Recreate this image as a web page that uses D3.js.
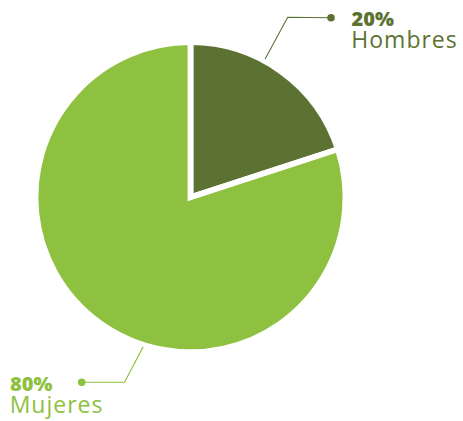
<!DOCTYPE html>
<html>
<head>
<meta charset="utf-8">
<script src="https://cdn.jsdelivr.net/npm/d3@7"></script>
<style>
  html, body { margin: 0; padding: 0; background: #fff; }
  svg { display: block; }
</style>
</head>
<body>
<svg id="chart" width="463" height="421"></svg>
<script>
// Gender split
const categories = ["Hombres", "Mujeres"];
const values = [20, 80];
const colors = ["#5C7232", "#8DC13F"];

const width = 463, height = 421;
const cx = 190.5, cy = 197.2, radius = 155;

const svg = d3.select("#chart");
const g = svg.append("g").attr("transform", `translate(${cx},${cy})`);

const pie = d3.pie().sort(null).value(d => d.value);
const arcs = pie(categories.map((c, i) => ({ name: c, value: values[i], color: colors[i] })));
const arc = d3.arc().innerRadius(0).outerRadius(radius);

g.selectAll("path.slice")
  .data(arcs)
  .join("path")
  .attr("class", "slice")
  .attr("d", arc)
  .attr("fill", d => d.data.color)
  .attr("stroke", "#fff")
  .attr("stroke-width", 5.8)
  .attr("stroke-linejoin", "miter");

// Callout layout: where along each slice the leader leaves the rim,
// the elbow and end point, and the text anchor.
const callouts = {
  Hombres: { t: 0.394, elbow: [287.7, 17.3], end: [331, 17.8], tx: 351.3, y1: 26, y2: 48 },
  Mujeres: { t: 0.436, elbow: [124.5, 382.3], end: [81.7, 382.3], tx: 9.7, y1: 391, y2: 413.3 }
};

const rimR = radius + 2;
arcs.forEach(d => {
  const c = callouts[d.data.name];
  const a = d.startAngle + c.t * (d.endAngle - d.startAngle);
  const sx = cx + rimR * Math.sin(a), sy = cy - rimR * Math.cos(a);
  const col = d.data.color;

  svg.append("polyline")
    .attr("points", [[sx, sy], c.elbow, c.end].map(p => p.join(",")).join(" "))
    .attr("fill", "none")
    .attr("stroke", col)
    .attr("stroke-width", 1.1);

  svg.append("circle")
    .attr("cx", c.end[0]).attr("cy", c.end[1]).attr("r", 3.8)
    .attr("fill", col);

  const pct = Math.round(100 * d.value / d3.sum(values));
  svg.append("text")
    .attr("x", c.tx + 0.3).attr("y", c.y1)
    .attr("font-family", "'Open Sans', sans-serif")
    .attr("font-weight", 800)
    .attr("font-size", 20)
    .attr("fill", col)
    .text(pct + "%");

  svg.append("text")
    .attr("x", c.tx).attr("y", c.y2)
    .attr("font-family", "'Open Sans', sans-serif")
    .attr("font-weight", 400)
    .attr("font-size", 23)
    .attr("letter-spacing", 1)
    .attr("fill", col)
    .text(d.data.name);
});
</script>
</body>
</html>
